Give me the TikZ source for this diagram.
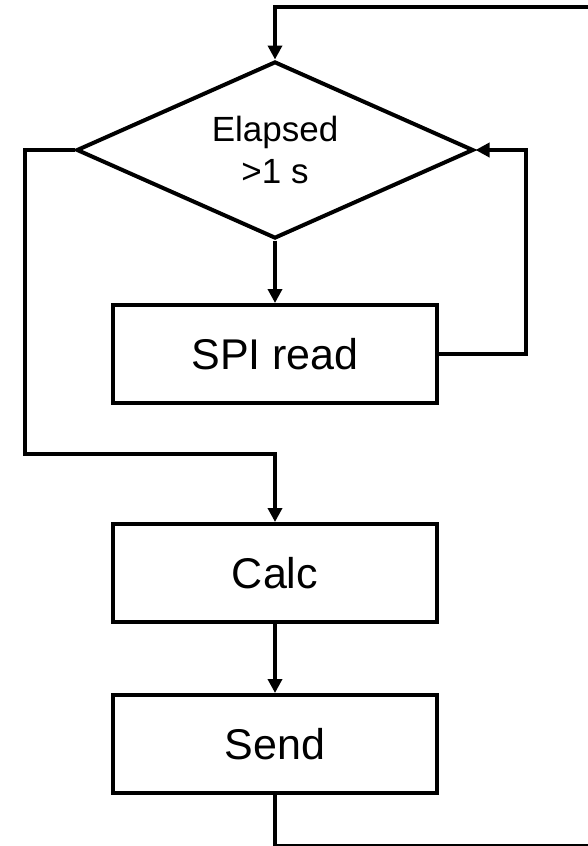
\documentclass[tikz,border=0pt]{standalone}
\usepackage{fontspec}
\setmainfont{Liberation Sans}
\usetikzlibrary{shapes.geometric,arrows.meta}
\tikzset{
  flowline/.style={line width=2pt, line join=miter},
  arr/.style={flowline, -{Triangle[length=7pt,width=7pt]}},
  procbox/.style={draw, line width=2pt, rectangle, minimum width=162pt, minimum height=49pt, inner sep=0pt, font=\fontsize{21.5}{26}\selectfont},
  decbox/.style={draw, line width=2pt, diamond, aspect=2.25, minimum width=198.5pt, minimum height=88.5pt, inner sep=0pt, align=center, font=\fontsize{17.5}{21}\selectfont}
}
\begin{document}
\begin{tikzpicture}[x=0.5pt, y=-0.5pt]
\clip (0,0) rectangle (588,846);
\fill[white] (0,0) rectangle (588,846);
\node[decbox] (d) at (275,150) {Elapsed\\>1 s};
\node[procbox] (spi) at (275,354) {SPI read};
\node[procbox] (calc) at (275,573) {Calc};
\node[procbox] (send) at (275,744) {Send};
\coordinate (loopBR) at (640,846);
\coordinate (loopTR) at (640,6.5);
\coordinate (rc) at (526,150);
\coordinate (lc) at (25,454);
\draw[arr] (send.south) |- (loopBR) -- (loopTR) -| (d.north);
\draw[arr] (d.south) -- (spi.north);
\draw[arr] (spi.east) -| (rc) -- (d.east);
\draw[arr] (d.west) -| (lc) -| (calc.north);
\draw[arr] (calc.south) -- (send.north);
\end{tikzpicture}
\end{document}
